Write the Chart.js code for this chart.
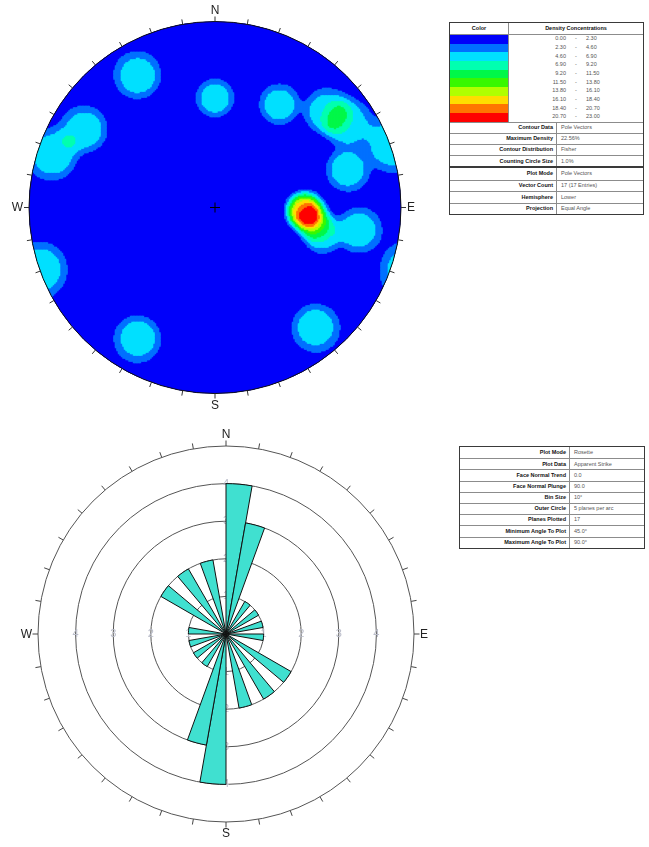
<!DOCTYPE html>
<html>
<head>
<meta charset="utf-8">
<script src="https://cdn.jsdelivr.net/npm/chart.js@4.4.1/dist/chart.umd.min.js"></script>
<style>
html,body{margin:0;padding:0;background:#fff;}
body{width:649px;height:847px;position:relative;overflow:hidden;font-family:"Liberation Sans",Arial,sans-serif;}
canvas{position:absolute;left:0;}
#stereo{top:0;}
#rose{top:420px;}
.tbl{position:absolute;box-sizing:border-box;border:1px solid #3a3a3a;background:#fff;}
.row{position:relative;box-sizing:border-box;display:flex;}
.cell{position:relative;box-sizing:border-box;height:100%;display:flex;align-items:center;font-size:5.5px;line-height:1;white-space:nowrap;color:#555;}
.lab{justify-content:flex-end;padding-right:3px;font-weight:bold;color:#111;}
.val{justify-content:flex-start;padding-left:4px;}
.hdr{justify-content:center;font-weight:bold;color:#111;}
.num{position:absolute;top:50%;transform:translateY(-50%);}
</style>
</head>
<body>
<canvas id="stereo" width="430" height="420"></canvas>
<canvas id="rose" width="450" height="427"></canvas>
<script>
// ---- Stereonet: pole vectors (trend / plunge, degrees) ----
const poleTrend  = [329.6, 0.0, 32.0, 49.3, 57.7, 250.5, 74.1, 91.0, 92.2, 93.5, 98.4, 103.9, 98.9, 140.1, 210.5, 288.0, 300.8];
const polePlunge = [ 11.4, 29.4, 24.0, 13.6, 10.0,   0.5, 17.2, 39.4, 37.8, 38.8, 33.9,  28.7, 14.2,  10.1,  11.7,   5.1,  11.7];

// Contour intervals (density %) and their fill colours
const levelEdges  = [0.00, 2.30, 4.60, 6.90, 9.20, 11.50, 13.80, 16.10, 18.40, 20.70, 23.00];
const levelColors = ['#0000fa', '#0070ff', '#00e0ff', '#00ffb0', '#00f848', '#38f800', '#b0ff00', '#ffdc00', '#ff7400', '#ff0000'];

// ---- Rose diagram: 10° apparent-strike bins, clockwise from north ----
const binStart = [0,10,20,30,40,50,60,70,80,90,100,110,120,130,140,150,160,170,
                  180,190,200,210,220,230,240,250,260,270,280,290,300,310,320,330,340,350];
const binCount = [4,3,0,1,0,1,0,1,0,1,0,0,2,0,2,0,2,0,
                  4,3,0,1,0,1,0,1,0,1,0,0,2,0,2,0,2,0];
const ringValues = [1, 2, 3, 4];
const compassLabels = ['N', 'E', 'S', 'W'];

// ---- Info tables ----
const legendHeader = ['Color', 'Density Concentrations'];
const contourInfoLabels = ['Contour Data', 'Maximum Density', 'Contour Distribution', 'Counting Circle Size'];
const contourInfoValues = ['Pole Vectors', '22.56%', 'Fisher', '1.0%'];
const plotInfoLabels = ['Plot Mode', 'Vector Count', 'Hemisphere', 'Projection'];
const plotInfoValues = ['Pole Vectors', '17 (17 Entries)', 'Lower', 'Equal Angle'];
const roseInfoLabels = ['Plot Mode', 'Plot Data', 'Face Normal Trend', 'Face Normal Plunge', 'Bin Size', 'Outer Circle', 'Planes Plotted', 'Minimum Angle To Plot', 'Maximum Angle To Plot'];
const roseInfoValues = ['Rosette', 'Apparent Strike', '0.0', '90.0', '10°', '5 planes per arc', '17', '45.0°', '90.0°'];

const DEG = Math.PI / 180;

// Normal CDF (Abramowitz–Stegun) used to soften the counting-circle edge
function phi(z) {
  const t = 1 / (1 + 0.2316419 * Math.abs(z));
  const d = 0.3989423 * Math.exp(-z * z / 2);
  const p = d * t * (0.3193815 + t * (-0.3565638 + t * (1.781478 + t * (-1.821256 + t * 1.330274))));
  return z > 0 ? 1 - p : p;
}

// Unit vectors (east, north, down) of the poles
const poleVec = poleTrend.map((t, i) => {
  const tr = t * DEG, pr = polePlunge[i] * DEG;
  return [Math.cos(pr) * Math.sin(tr), Math.cos(pr) * Math.cos(tr), Math.sin(pr)];
});

// Smoothed 1% counting circle (half-angle ~8°), axial data
const COUNT_HALF_ANGLE = 7.9, EDGE_SOFTNESS = 2.3;
function densityAt(x, y) {
  const r2 = x * x + y * y, k = 1 / (1 + r2);
  const vx = 2 * x * k, vy = 2 * y * k, vz = (1 - r2) * k;   // inverse stereographic (equal angle)
  let s = 0;
  for (const p of poleVec) {
    const c = Math.min(1, Math.abs(vx * p[0] + vy * p[1] + vz * p[2]));
    s += phi((COUNT_HALF_ANGLE - Math.acos(c) / DEG) / EDGE_SOFTNESS);
  }
  return 100 * s / poleVec.length;
}

// Density grid cells, grouped by contour interval
const cellStep = 1.5 / 186;
const cells = levelColors.map(() => []);
const nHalf = Math.ceil(1.02 / cellStep);
for (let i = -nHalf; i <= nHalf; i++) {
  for (let j = -nHalf; j <= nHalf; j++) {
    const x = i * cellStep, y = j * cellStep;
    if (x * x + y * y > 1.02 * 1.02) continue;
    const d = densityAt(x, y);
    let L = 0;
    while (L < levelColors.length - 1 && d >= levelEdges[L + 1]) L++;
    if (L > 0) cells[L].push({ x, y });
    else cells[0].push({ x, y });
  }
}

const stereoFrame = {
  id: 'stereoFrame',
  beforeDatasetsDraw(chart) {
    const { ctx, scales } = chart;
    const cx = scales.x.getPixelForValue(0), cy = scales.y.getPixelForValue(0);
    const R = scales.x.getPixelForValue(1) - cx;
    ctx.save();
    ctx.beginPath();
    ctx.arc(cx, cy, R, 0, 2 * Math.PI);
    ctx.clip();
    ctx.fillStyle = levelColors[0];
    ctx.fillRect(cx - R - 2, cy - R - 2, 2 * R + 4, 2 * R + 4);
  },
  afterDatasetsDraw(chart) {
    const { ctx, scales } = chart;
    ctx.restore();
    const cx = scales.x.getPixelForValue(0), cy = scales.y.getPixelForValue(0);
    const R = scales.x.getPixelForValue(1) - cx;
    ctx.save();
    ctx.strokeStyle = '#111';
    ctx.lineWidth = 1;
    ctx.beginPath();
    ctx.arc(cx, cy, R, 0, 2 * Math.PI);
    ctx.stroke();
    ctx.strokeStyle = '#333';
    for (let a = 0; a < 360; a += 10) {
      const s = Math.sin(a * DEG), c = Math.cos(a * DEG);
      ctx.beginPath();
      ctx.moveTo(cx + s * R, cy - c * R);
      ctx.lineTo(cx + s * (R + 5), cy - c * (R + 5));
      ctx.stroke();
    }
    ctx.strokeStyle = '#000';
    ctx.beginPath();
    ctx.moveTo(cx - 5, cy); ctx.lineTo(cx + 5, cy);
    ctx.moveTo(cx, cy - 5); ctx.lineTo(cx, cy + 5);
    ctx.stroke();
    ctx.fillStyle = '#222';
    ctx.font = '12px "Liberation Sans", Arial, sans-serif';
    ctx.textBaseline = 'middle';
    ctx.textAlign = 'center';
    ctx.fillText(compassLabels[0], cx, cy - R - 10.5);
    ctx.fillText(compassLabels[2], cx, cy + R + 12.5);
    ctx.textAlign = 'left';
    ctx.fillText(compassLabels[1], cx + R + 6, cy + 0.5);
    ctx.textAlign = 'right';
    ctx.fillText(compassLabels[3], cx - R - 6, cy + 0.5);
    ctx.restore();
  }
};

new Chart(document.getElementById('stereo'), {
  type: 'scatter',
  data: {
    datasets: levelColors.map((col, i) => ({
      data: cells[i],
      backgroundColor: col,
      pointStyle: 'rect',
      borderWidth: 0,
      pointRadius: (ctx) => {
        const sx = ctx.chart.scales.x;
        const px = Math.abs(sx.getPixelForValue(cellStep) - sx.getPixelForValue(0));
        return (px + 0.9) / Math.SQRT2;
      },
      order: levelColors.length - i
    }))
  },
  options: {
    responsive: false, animation: false, events: [], devicePixelRatio: 1,
    parsing: false, normalized: true,
    layout: { padding: { left: 29, right: 29, top: 21.5, bottom: 26.5 } },
    scales: {
      x: { type: 'linear', min: -1, max: 1, display: false },
      y: { type: 'linear', min: -1, max: 1, display: false }
    },
    plugins: { legend: { display: false }, tooltip: { enabled: false } }
  },
  plugins: [stereoFrame]
});

const roseFrame = {
  id: 'roseFrame',
  beforeDatasetsDraw(chart) {
    const { ctx } = chart;
    const r = chart.scales.r;
    const cx = r.xCenter, cy = r.yCenter;
    ctx.save();
    ctx.fillStyle = '#b9bcc9';
    ctx.font = '11px "Liberation Sans", Arial, sans-serif';
    ctx.textAlign = 'center';
    ctx.textBaseline = 'middle';
    ringValues.forEach(v => {
      const d = r.getDistanceFromCenterForValue(v);
      ctx.fillText(String(v), cx - d, cy);
      ctx.fillText(String(v), cx + d, cy);
      ctx.fillText(String(v), cx, cy - d);
      ctx.fillText(String(v), cx, cy + d);
    });
    ctx.restore();
  },
  afterDatasetsDraw(chart) {
    const { ctx } = chart;
    const r = chart.scales.r;
    const cx = r.xCenter, cy = r.yCenter, R = r.drawingArea;
    ctx.save();
    ctx.strokeStyle = '#444';
    ctx.lineWidth = 1;
    for (let a = 0; a < 360; a += 10) {
      const s = Math.sin(a * DEG), c = Math.cos(a * DEG);
      ctx.beginPath();
      ctx.moveTo(cx + s * R, cy - c * R);
      ctx.lineTo(cx + s * (R + 5.5), cy - c * (R + 5.5));
      ctx.stroke();
    }
    ctx.fillStyle = '#222';
    ctx.font = '12px "Liberation Sans", Arial, sans-serif';
    ctx.textBaseline = 'middle';
    ctx.textAlign = 'center';
    ctx.fillText(compassLabels[0], cx, cy - R - 11);
    ctx.fillText(compassLabels[2], cx, cy + R + 11.5);
    ctx.textAlign = 'left';
    ctx.fillText(compassLabels[1], cx + R + 6, cy + 0.5);
    ctx.textAlign = 'right';
    ctx.fillText(compassLabels[3], cx - R - 6, cy + 0.5);
    ctx.restore();
  }
};

new Chart(document.getElementById('rose'), {
  type: 'polarArea',
  data: {
    labels: binStart.map(String),
    datasets: [{ data: binCount, backgroundColor: '#40e0d0', borderColor: '#111', borderWidth: 1 }]
  },
  options: {
    responsive: false, animation: false, events: [], devicePixelRatio: 1,
    layout: { padding: { left: 38, right: 36, top: 26, bottom: 25 } },
    scales: {
      r: {
        min: 0, max: 5, startAngle: 0,
        ticks: { display: false, stepSize: 1 },
        grid: { circular: true, color: '#555', lineWidth: 1 },
        angleLines: { display: false },
        pointLabels: { display: false }
      }
    },
    plugins: { legend: { display: false }, tooltip: { enabled: false } }
  },
  plugins: [roseFrame]
});

// ---- Tables ----
function makeTable(x, y, w, rows) {
  const t = document.createElement('div');
  t.className = 'tbl';
  t.style.left = x + 'px'; t.style.top = y + 'px'; t.style.width = w + 'px';
  rows.forEach((row, ri) => {
    const r = document.createElement('div');
    r.className = 'row';
    r.style.height = row.h + 'px';
    if (ri > 0 && !row.noLine) r.style.borderTop = '1px solid #8c8c8c';
    row.cells.forEach((c, ci) => {
      const d = document.createElement('div');
      d.className = 'cell ' + (c.cls || '');
      if (c.w) d.style.width = c.w + 'px'; else d.style.flex = '1';
      if (ci > 0) d.style.borderLeft = '1px solid #8c8c8c';
      if (c.bg) d.style.background = c.bg;
      if (c.text !== undefined) d.textContent = c.text;
      if (c.parts) {
        c.parts.forEach(p => {
          const s = document.createElement('span');
          s.className = 'num';
          s.textContent = p.text;
          if (p.right !== undefined) s.style.right = p.right + 'px';
          if (p.left !== undefined) s.style.left = p.left + 'px';
          d.appendChild(s);
        });
      }
      r.appendChild(d);
    });
    t.appendChild(r);
  });
  document.body.appendChild(t);
}

const legendRows = [{ h: 11, cells: [{ w: 58, cls: 'hdr', text: legendHeader[0] }, { cls: 'hdr', text: legendHeader[1] }] }];
levelColors.forEach((col, i) => {
  legendRows.push({ h: i === 0 ? 9.5 : 8.7, noLine: i > 0, cells: [
    { w: 58, bg: col },
    { parts: [
      { text: levelEdges[i].toFixed(2), right: 77 },
      { text: '-', left: 66 },
      { text: levelEdges[i + 1].toFixed(2), left: 77 }
    ] }
  ] });
});
contourInfoLabels.forEach((lab, i) => {
  legendRows.push({ h: 11.2, cells: [{ w: 106, cls: 'lab', text: lab }, { cls: 'val', text: contourInfoValues[i] }] });
});
makeTable(449, 22, 195, legendRows);

makeTable(449, 167, 195, plotInfoLabels.map((lab, i) => ({
  h: 11.5, cells: [{ w: 106, cls: 'lab', text: lab }, { cls: 'val', text: plotInfoValues[i] }]
})));

makeTable(459, 446, 186, roseInfoLabels.map((lab, i) => ({
  h: 11.2, cells: [{ w: 109, cls: 'lab', text: lab }, { cls: 'val', text: roseInfoValues[i] }]
})));
</script>
</body>
</html>
